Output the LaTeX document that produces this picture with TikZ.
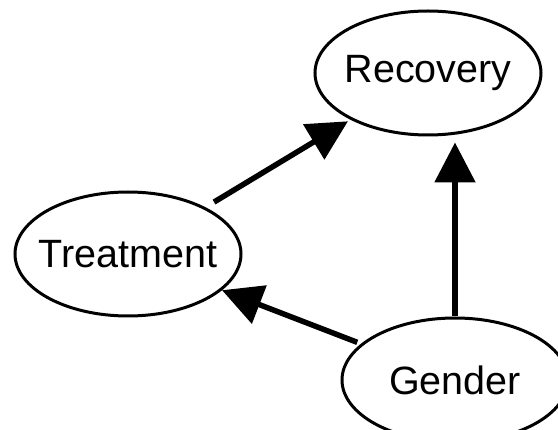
\documentclass[tikz,border=0pt]{standalone}
\usepackage{fontspec}
\setmainfont{Liberation Sans}
\usetikzlibrary{arrows.meta,shapes.geometric}
\newcommand{\vlabel}[1]{\makebox[0pt]{#1}}
\tikzset{
  >={Triangle[length=40pt,width=40pt]},
  var/.style={ellipse,draw=black,line width=3pt,inner sep=0pt,
    minimum width=226pt,minimum height=124pt,
    font=\fontsize{39.5}{46}\selectfont},
  flow/.style={->,line width=5.5pt,draw=black},
}
\begin{document}
\begin{tikzpicture}[x=1pt,y=-1pt]
  \useasboundingbox (0,0) rectangle (558,430);
  \node[var] (r) at (428,73) {\vlabel{Recovery}};
  \node[var] (t) at (128,254) {\vlabel{Treatment}};
  \node[var] (g) at (455,380) {\vlabel{Gender}};
  \draw[flow,shorten <=10pt,shorten >=3pt] (t) -- (r);
  \draw[flow,shorten >=6pt] (g.north) -- (r.south -| g.north);
  \draw[flow,shorten <=4pt] (g) -- (t);
\end{tikzpicture}
\end{document}
